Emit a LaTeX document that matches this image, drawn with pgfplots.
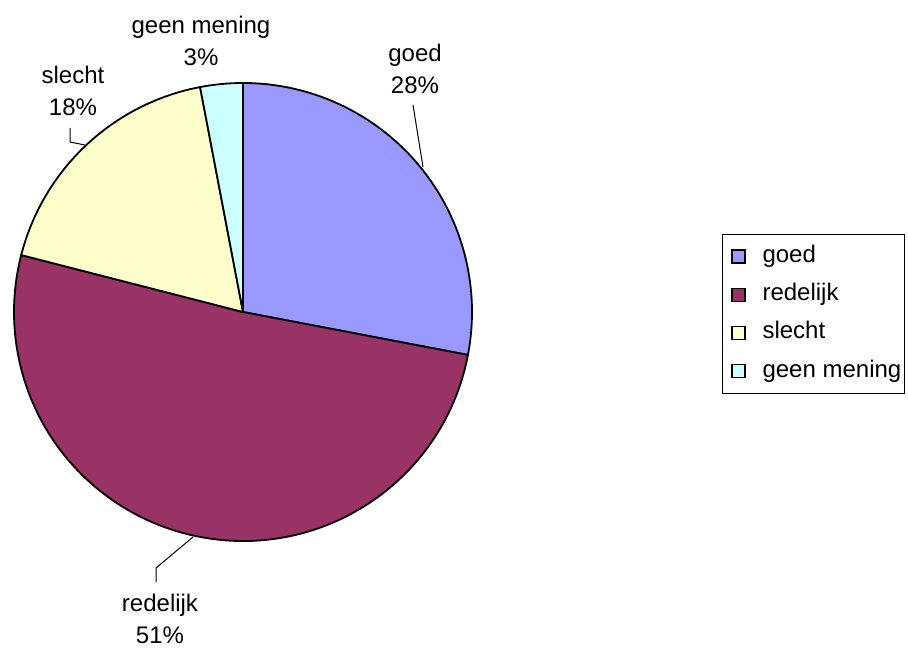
\documentclass[border=0pt]{standalone}
\usepackage{fontspec}
\setmainfont{Liberation Sans}
\usepackage{pgfplots}
\usepackage{pgfplotstable}
\pgfplotsset{compat=1.18}

\definecolor{goedc}{HTML}{9999FF}
\definecolor{redelijkc}{HTML}{993366}
\definecolor{slechtc}{HTML}{FFFFCC}
\definecolor{geenc}{HTML}{CCFFFF}

% share in percent, in order clockwise from 12 o'clock
\pgfplotstableread[col sep=comma]{
name,value,col
goed,28,goedc
redelijk,51,redelijkc
slecht,18,slechtc
geen mening,3,geenc
}\piedata

\begin{document}
\begin{tikzpicture}
\begin{axis}[
  scale only axis,
  width=454pt, height=324.5pt,
  xmin=0, xmax=908, ymin=0, ymax=649,
  hide axis, clip=false,
  legend style={
    at={(0.7952,0.6394)}, anchor=north west,
    draw=black, line width=0.5pt,
    font=\fontsize{12}{14}\selectfont,
    inner xsep=1.5pt, inner ysep=5pt,
    row sep=7.1pt,
    nodes={inner sep=0pt, text height=9pt, text depth=3pt},
  },
  legend cell align=left,
  legend image code/.code={
    \path (-3pt,0pt);
    \draw[#1, line width=0.6pt] (0pt,-3.25pt) rectangle (6.5pt,3.25pt);
    \path (15pt,0pt);
  },
]
\addlegendimage{fill=goedc, draw=black}
\addlegendentry{goed}
\addlegendimage{fill=redelijkc, draw=black}
\addlegendentry{redelijk}
\addlegendimage{fill=slechtc, draw=black}
\addlegendentry{slecht}
\addlegendimage{fill=geenc, draw=black}
\addlegendentry{geen mening}

\pgfplotsextra{
  \gdef\startang{90}
  \pgfplotstablegetrowsof{\piedata}
  \pgfmathtruncatemacro\lastrow{\pgfplotsretval-1}
  \foreach \i in {0,...,\lastrow} {
    \pgfplotstablegetelem{\i}{value}\of\piedata
    \let\v\pgfplotsretval
    \pgfplotstablegetelem{\i}{col}\of\piedata
    \let\c\pgfplotsretval
    \pgfmathsetmacro\endang{\startang-3.6*\v}
    \filldraw[fill=\c, draw=black, line width=0.9pt, line join=round]
      (axis cs:243,337) -- ([shift={(\startang:114.5pt)}]axis cs:243,337)
      arc[start angle=\startang, end angle=\endang, radius=114.5pt] -- cycle;
    \xdef\startang{\endang}
  }
}

% leader lines
\draw[line width=0.5pt] (axis cs:413,544) -- (axis cs:423,482);
\draw[line width=0.5pt] (axis cs:70,521) -- (axis cs:70,507) -- (axis cs:85,504);
\draw[line width=0.5pt] (axis cs:156,67) -- (axis cs:156,81) -- (axis cs:193,112);

% data labels
\tikzset{lbl/.style={align=center, inner sep=0pt, font=\fontsize{12}{16}\selectfont}}
\node[lbl] at (axis cs:415,580) {goed\\28\%};
\node[lbl] at (axis cs:73,558) {slecht\\18\%};
\node[lbl] at (axis cs:201,608) {geen mening\\3\%};
\node[lbl] at (axis cs:160,30) {redelijk\\51\%};
\end{axis}
\pgfresetboundingbox
\useasboundingbox (current axis.south west) rectangle (current axis.north east);
\end{tikzpicture}
\end{document}
